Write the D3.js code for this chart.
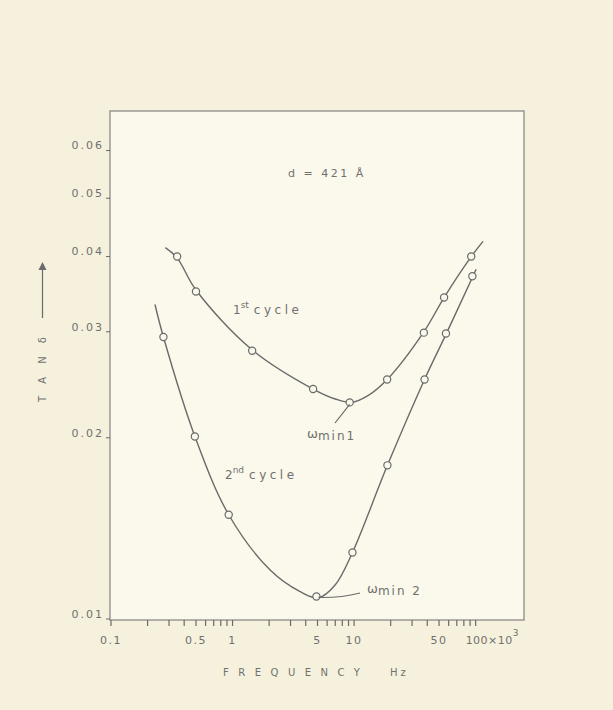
<!DOCTYPE html>
<html>
<head>
<meta charset="utf-8">
<style>
  body { margin: 0; background: #f6f1dc; }
  svg { display: block; }
  text { font-family: "DejaVu Sans", sans-serif; fill: #707070; }
</style>
</head>
<body>
<svg width="613" height="710"></svg>
<script src="https://d3js.org/d3.v7.min.js"></script>
<script>
  // measured points (frequency in kHz, tan delta)
  var cycle1Freq = [0.35, 0.5, 1.45, 4.6, 9.2, 18.7, 37.5, 55, 92];
  var cycle1Tan = [0.0400, 0.0350, 0.0279, 0.0241, 0.0229, 0.0250, 0.0299, 0.0342, 0.0400];
  var cycle2Freq = [0.27, 0.49, 0.93, 4.9, 9.7, 18.8, 38, 57, 94];
  var cycle2Tan = [0.0294, 0.0201, 0.0149, 0.0109, 0.0129, 0.0180, 0.0250, 0.0298, 0.0371];

  // hand-drawn fitted curves
  var fit1Freq = [0.28, 0.35, 0.5, 1.45, 4.6, 7, 9.5, 13, 18.7, 37.5, 55, 92, 115];
  var fit1Tan = [0.0414, 0.0398, 0.0352, 0.0280, 0.0241, 0.0232, 0.0229, 0.0235, 0.0250, 0.0300, 0.0342, 0.0400, 0.0424];
  var fit2Freq = [0.23, 0.27, 0.49, 0.93, 2.04, 3.6, 5.06, 6.98, 9.7, 18.8, 38, 57, 95, 101];
  var fit2Tan = [0.0333, 0.0294, 0.0201, 0.0149, 0.01206, 0.0111, 0.01084, 0.01139, 0.0129, 0.0180, 0.0250, 0.0297, 0.0371, 0.0381];

  var yTicks = [0.01, 0.02, 0.03, 0.04, 0.05, 0.06];
  var xLabels = [0.1, 0.5, 1, 5, 10, 50];

  var svg = d3.select("svg");
  var box = {left: 110, right: 524, top: 111, bottom: 620};

  var x = d3.scaleLog().domain([0.1, 250]).range([box.left + 1, box.right]);
  var y = d3.scaleLog().domain([0.01, 0.0698]).range([box.bottom - 1, box.top]);

  var ink = "#6a6a6a";

  // plot frame
  svg.append("rect")
    .attr("x", box.left).attr("y", box.top)
    .attr("width", box.right - box.left).attr("height", box.bottom - box.top)
    .attr("fill", "#fbf9ec")
    .attr("stroke", "#8a8a8a")
    .attr("stroke-width", 1.3);

  // x ticks: 1..9 per decade from 0.1 to 100
  var xTicks = [];
  [0.1, 1, 10].forEach(function(d) {
    for (var i = 1; i < 10; i++) xTicks.push(+(d * i).toPrecision(3));
  });
  xTicks.push(100);

  svg.append("g")
    .selectAll("line")
    .data(xTicks)
    .enter().append("line")
    .attr("x1", function(d) { return x(d); })
    .attr("x2", function(d) { return x(d); })
    .attr("y1", box.bottom)
    .attr("y2", box.bottom + 6)
    .attr("stroke", ink)
    .attr("stroke-width", 1.2);

  svg.append("g")
    .selectAll("text")
    .data(xLabels)
    .enter().append("text")
    .attr("x", function(d) { return x(d); })
    .attr("y", box.bottom + 24)
    .attr("text-anchor", "middle")
    .attr("font-size", 11)
    .attr("letter-spacing", 1.5)
    .text(function(d) { return d; });

  var last = svg.append("text")
    .attr("x", x(100) - 10)
    .attr("y", box.bottom + 24)
    .attr("font-size", 11)
    .attr("letter-spacing", 0.5);
  last.append("tspan").text("100\u00d710");
  last.append("tspan").attr("dy", -8).attr("font-size", 9).text("3");

  // y ticks
  svg.append("g")
    .selectAll("line")
    .data(yTicks)
    .enter().append("line")
    .attr("x1", box.left - 4)
    .attr("x2", box.left)
    .attr("y1", function(d) { return y(d); })
    .attr("y2", function(d) { return y(d); })
    .attr("stroke", ink);

  svg.append("g")
    .selectAll("text")
    .data(yTicks)
    .enter().append("text")
    .attr("x", box.left - 6)
    .attr("y", function(d) { return y(d); })
    .attr("dy", "-0.1em")
    .attr("text-anchor", "end")
    .attr("font-size", 11)
    .attr("letter-spacing", 2)
    .text(function(d) { return d.toFixed(2); });

  // axis titles
  svg.append("text")
    .attr("x", 223)
    .attr("y", 676)
    .attr("font-size", 10)
    .attr("letter-spacing", 9.5)
    .text("FREQUENCY");
  svg.append("text")
    .attr("x", 390)
    .attr("y", 676)
    .attr("font-size", 10)
    .attr("letter-spacing", 3)
    .text("Hz");

  var yl = svg.append("g").attr("transform", "translate(46,402) rotate(-90)");
  yl.append("text")
    .attr("x", 0).attr("y", 0)
    .attr("font-size", 10)
    .attr("letter-spacing", 13)
    .text("TANδ");
  yl.append("line")
    .attr("x1", 84).attr("x2", 138)
    .attr("y1", -3.5).attr("y2", -3.5)
    .attr("stroke", ink).attr("stroke-width", 1.2);
  yl.append("path")
    .attr("d", "M140,-3.5 L132,-7.5 L132,0.5 Z")
    .attr("fill", ink);

  // curves
  var line = d3.line()
    .x(function(d) { return x(d[0]); })
    .y(function(d) { return y(d[1]); })
    .curve(d3.curveCatmullRom.alpha(0.5));

  [[fit1Freq, fit1Tan], [fit2Freq, fit2Tan]].forEach(function(s) {
    svg.append("path")
      .datum(d3.zip(s[0], s[1]))
      .attr("d", line)
      .attr("fill", "none")
      .attr("stroke", ink)
      .attr("stroke-width", 1.4);
  });

  // points
  [[cycle1Freq, cycle1Tan], [cycle2Freq, cycle2Tan]].forEach(function(s) {
    svg.append("g")
      .selectAll("circle")
      .data(d3.zip(s[0], s[1]))
      .enter().append("circle")
      .attr("cx", function(d) { return x(d[0]); })
      .attr("cy", function(d) { return y(d[1]); })
      .attr("r", 3.6)
      .attr("fill", "#fbf9ec")
      .attr("stroke", ink)
      .attr("stroke-width", 1.2);
  });

  // annotations
  svg.append("text")
    .attr("x", 288).attr("y", 177)
    .attr("font-size", 11)
    .attr("letter-spacing", 2.5)
    .text("d = 421 Å");

  var c1 = svg.append("text").attr("x", 233).attr("y", 314).attr("font-size", 12);
  c1.append("tspan").text("1");
  c1.append("tspan").attr("dy", -6).attr("font-size", 9).text("st");
  c1.append("tspan").attr("dy", 6).attr("dx", 5).attr("letter-spacing", 3.5).text("cycle");

  var c2 = svg.append("text").attr("x", 225).attr("y", 479).attr("font-size", 12);
  c2.append("tspan").text("2");
  c2.append("tspan").attr("dy", -6).attr("font-size", 9).text("nd");
  c2.append("tspan").attr("dy", 6).attr("dx", 5).attr("letter-spacing", 3.5).text("cycle");

  // omega min 1
  svg.append("line")
    .attr("x1", 335).attr("y1", 423)
    .attr("x2", x(cycle1Freq[4])).attr("y2", y(cycle1Tan[4]) + 2)
    .attr("stroke", ink).attr("stroke-width", 1.2);
  var w1 = svg.append("text").attr("x", 307).attr("y", 438).attr("font-size", 12);
  w1.append("tspan").attr("font-size", 13).text("ω");
  w1.append("tspan").attr("dy", 2).attr("letter-spacing", 2).text("min1");

  // omega min 2
  svg.append("path")
    .attr("d", "M" + (x(cycle2Freq[3]) + 2) + "," + (y(cycle2Tan[3]) + 1) + " Q340,598 360,593")
    .attr("fill", "none")
    .attr("stroke", ink).attr("stroke-width", 1.2);
  var w2 = svg.append("text").attr("x", 367).attr("y", 593).attr("font-size", 12);
  w2.append("tspan").attr("font-size", 13).text("ω");
  w2.append("tspan").attr("dy", 2).attr("letter-spacing", 2).text("min 2");
</script>
</body>
</html>
